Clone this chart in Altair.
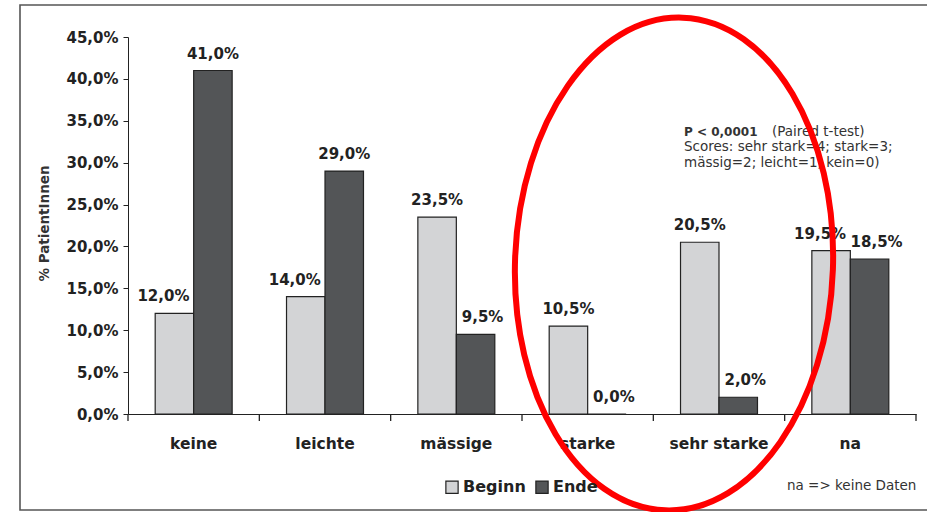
import altair as alt
import pandas as pd

# ---- data -------------------------------------------------------------
categories = ["keine", "leichte", "mässige", "starke", "sehr starke", "na"]
series = ["Beginn", "Ende"]
beginn = [12.0, 14.0, 23.5, 10.5, 20.5, 19.5]
ende = [41.0, 29.0, 9.5, 0.0, 2.0, 18.5]
y_ticks = [0, 5, 10, 15, 20, 25, 30, 35, 40, 45]
colors = ["#d3d4d6", "#535557"]

rows = []
for c, b, e in zip(categories, beginn, ende):
    rows.append({"category": c, "series": "Beginn", "value": b})
    rows.append({"category": c, "series": "Ende", "value": e})
df = pd.DataFrame(rows)

FONT = "DejaVu Sans"
INK = "#222222"
PAD_INNER = 0.414
PLOT_W = 788
PLOT_H = 377

# ---- encodings ---------------------------------------------------------
x_scale = alt.Scale(paddingInner=PAD_INNER, paddingOuter=PAD_INNER / 2)
x_axis = alt.Axis(
    title=None,
    labelAngle=0,
    ticks=False,
    domainColor=INK,
    labelFont=FONT,
    labelFontSize=15.5,
    labelFontWeight="bold",
    labelColor=INK,
    labelBaseline="middle",
    labelPadding=29,
)
x_enc = alt.X("category:N", sort=categories, scale=x_scale, axis=x_axis)
xoff_enc = alt.XOffset("series:N", sort=series)
y_enc = alt.Y(
    "value:Q",
    scale=alt.Scale(domain=[0, 45], nice=False),
    axis=alt.Axis(
        title="% PatientInnen",
        values=y_ticks,
        labelExpr="replace(format(datum.value, '.1f'), '.', ',') + '%'",
        grid=False,
        tickSize=5,
        tickColor=INK,
        domainColor=INK,
        labelFont=FONT,
        labelFontSize=15,
        labelFontWeight="bold",
        labelColor=INK,
        labelPadding=5,
        titleFont=FONT,
        titleFontSize=13.5,
        titleFontWeight="bold",
        titleColor="#333333",
        titleAngle=270,
        titleX=-84,
        titleY=186,
        titleBaseline="middle",
    ),
)
color_enc = alt.Color(
    "series:N",
    sort=series,
    scale=alt.Scale(domain=series, range=colors),
    title=None,
    legend=alt.Legend(
        orient="none",
        legendX=316,
        legendY=442,
        direction="horizontal",
        symbolType="square",
        symbolSize=150,
        symbolStrokeColor=INK,
        symbolStrokeWidth=1.2,
        labelFont=FONT,
        labelFontSize=16,
        labelFontWeight="bold",
        labelColor=INK,
        labelOffset=3,
        columnPadding=7,
    ),
)

base = alt.Chart(df)

bars = base.mark_bar(stroke=INK, strokeWidth=1.2).encode(
    x=x_enc, xOffset=xoff_enc, y=y_enc, color=color_enc
)

# category boundary ticks below the x axis (Excel style)
step = PLOT_W / len(categories)
boundary_ticks = (
    alt.Chart(pd.DataFrame({"category": categories}))
    .mark_rule(color=INK, strokeWidth=1.3, xOffset=-PAD_INNER * step / 2)
    .encode(
        x=alt.X("category:N", sort=categories, scale=x_scale, bandPosition=0, axis=x_axis),
        y=alt.value(PLOT_H),
        y2=alt.value(PLOT_H + 7),
    )
)
end_tick = (
    alt.Chart(pd.DataFrame({"k": [0]}))
    .mark_rule(color=INK, strokeWidth=1.3)
    .encode(x=alt.value(PLOT_W), y=alt.value(PLOT_H), y2=alt.value(PLOT_H + 7))
)

# label nudges (Excel-style placement to avoid overlaps)
left_nudged = [("keine", "Beginn"), ("leichte", "Beginn"), ("na", "Beginn")]
right_nudged = [("mässige", "Ende"), ("starke", "Ende"), ("sehr starke", "Ende"), ("na", "Ende")]


def pair_expr(pairs):
    return " || ".join(
        f"(datum.category == '{c}' && datum.series == '{s}')" for c, s in pairs
    )


left_expr = pair_expr(left_nudged)
right_expr = pair_expr(right_nudged)
center_expr = f"!({left_expr}) && !({right_expr})"

label_calc = "replace(format(datum.value, '.1f'), '.', ',') + '%'"


def label_layer(expr, dx):
    return (
        base.transform_filter(expr)
        .transform_calculate(label=label_calc)
        .mark_text(
            font=FONT,
            fontSize=15,
            fontWeight="bold",
            color=INK,
            baseline="alphabetic",
            dy=-12,
            dx=dx,
        )
        .encode(x=x_enc, xOffset=xoff_enc, y=y_enc, text="label:N")
    )


labels = label_layer(center_expr, 0) + label_layer(left_expr, -11) + label_layer(right_expr, 7)

# ---- annotations --------------------------------------------------------
def note(text, x, y, size=13.5, weight="normal"):
    return (
        alt.Chart(pd.DataFrame({"t": [text]}))
        .mark_text(
            font=FONT,
            fontSize=size,
            fontWeight=weight,
            color="#333333",
            align="left",
            baseline="middle",
        )
        .encode(x=alt.value(x), y=alt.value(y), text="t:N")
    )


notes = (
    note("P < 0,0001", 556, 95, size=12, weight="bold")
    + note("(Paired t-test)", 644, 95)
    + note("Scores: sehr stark=4; stark=3;", 556, 110)
    + note("mässig=2; leicht=1; kein=0)", 556, 126)
    + note("na => keine Daten", 659, 449)
)

frame = (
    alt.Chart(pd.DataFrame({"f": [0]}))
    .mark_rect(fillOpacity=0, stroke="#555555", strokeWidth=1.6)
    .encode(x=alt.value(-108), x2=alt.value(805), y=alt.value(-32), y2=alt.value(473))
)

ellipse_path = (
    "M 0 -1 C 0.356 -1 0.645 -0.552 0.645 0 "
    "C 0.645 0.552 0.356 1 0 1 "
    "C -0.356 1 -0.645 0.552 -0.645 0 "
    "C -0.645 -0.552 -0.356 -1 0 -1 Z"
)
ellipse = (
    alt.Chart(pd.DataFrame({"e": [0]}))
    .mark_point(
        shape=ellipse_path,
        size=243049,
        filled=False,
        stroke="#ff0000",
        strokeWidth=6,
        opacity=1,
        angle=2,
    )
    .encode(x=alt.value(546), y=alt.value(227))
)

chart = (
    alt.layer(frame, bars, boundary_ticks, end_tick, labels, notes, ellipse)
    .properties(
        width=PLOT_W,
        height=PLOT_H,
        autosize=alt.AutoSizeParams(type="none"),
        padding={"left": 128, "top": 37, "right": 11, "bottom": 98},
        background="white",
    )
    .configure_view(strokeWidth=0)
)

chart.save("out.html", embed_options={"renderer": "svg", "actions": False})
